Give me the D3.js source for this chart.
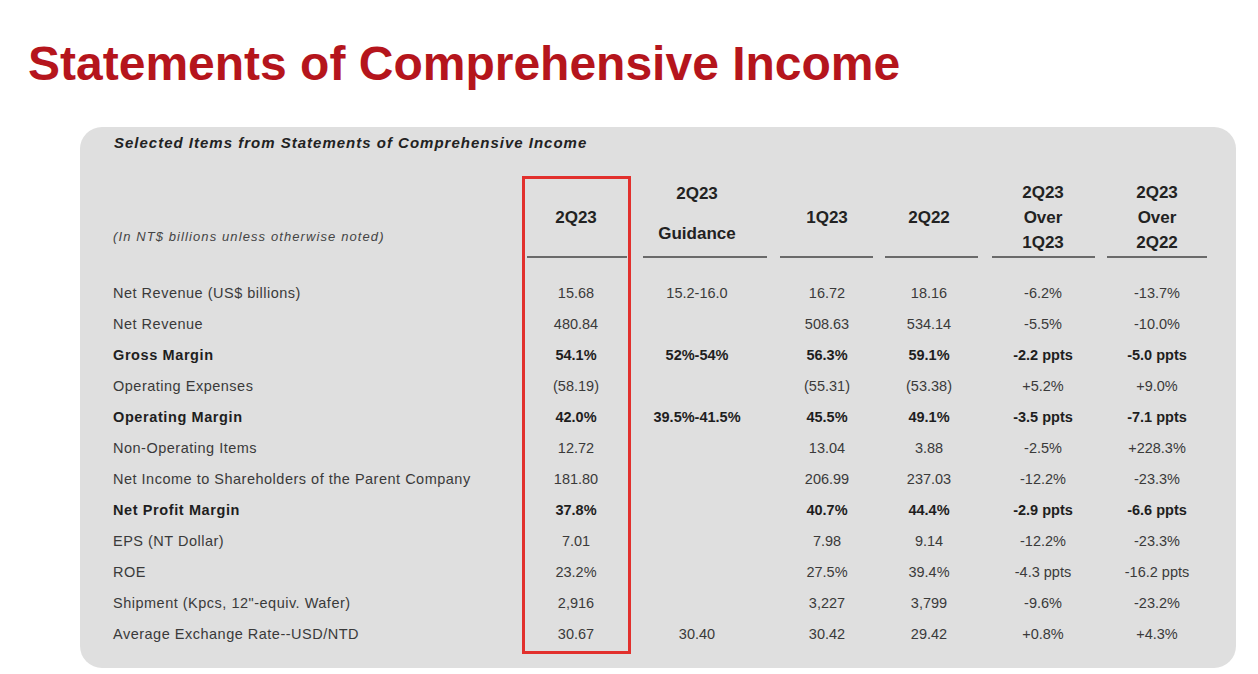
<!DOCTYPE html>
<html>
<head>
<meta charset="utf-8">
<title>Statements of Comprehensive Income</title>
<script src="https://d3js.org/d3.v7.min.js"></script>
<style>
  body { margin: 0; background: #fff; }
  svg { display: block; font-family: "Liberation Sans", Arial, sans-serif; }
</style>
</head>
<body>
<div id="chart"></div>
<script>
// Table content
const rowLabels = [
  "Net Revenue (US$ billions)",
  "Net Revenue",
  "Gross Margin",
  "Operating Expenses",
  "Operating Margin",
  "Non-Operating Items",
  "Net Income to Shareholders of the Parent Company",
  "Net Profit Margin",
  "EPS (NT Dollar)",
  "ROE",
  "Shipment (Kpcs, 12\"-equiv. Wafer)",
  "Average Exchange Rate--USD/NTD"
];
const boldRows = ["Gross Margin", "Operating Margin", "Net Profit Margin"];

const colKeys = ["q2q23", "guidance", "q1q23", "q2q22", "over1q23", "over2q22"];
const colHeaders = [
  ["2Q23"],
  ["2Q23", "Guidance"],
  ["1Q23"],
  ["2Q22"],
  ["2Q23", "Over", "1Q23"],
  ["2Q23", "Over", "2Q22"]
];

const q2q23 = ["15.68", "480.84", "54.1%", "(58.19)", "42.0%", "12.72", "181.80", "37.8%", "7.01", "23.2%", "2,916", "30.67"];
const guidance = ["15.2-16.0", "", "52%-54%", "", "39.5%-41.5%", "", "", "", "", "", "", "30.40"];
const q1q23 = ["16.72", "508.63", "56.3%", "(55.31)", "45.5%", "13.04", "206.99", "40.7%", "7.98", "27.5%", "3,227", "30.42"];
const q2q22 = ["18.16", "534.14", "59.1%", "(53.38)", "49.1%", "3.88", "237.03", "44.4%", "9.14", "39.4%", "3,799", "29.42"];
const over1q23 = ["-6.2%", "-5.5%", "-2.2 ppts", "+5.2%", "-3.5 ppts", "-2.5%", "-12.2%", "-2.9 ppts", "-12.2%", "-4.3 ppts", "-9.6%", "+0.8%"];
const over2q22 = ["-13.7%", "-10.0%", "-5.0 ppts", "+9.0%", "-7.1 ppts", "+228.3%", "-23.3%", "-6.6 ppts", "-23.3%", "-16.2 ppts", "-23.2%", "+4.3%"];
const columns = [q2q23, guidance, q1q23, q2q22, over1q23, over2q22];

const width = 1258, height = 674;

const svg = d3.select("#chart").append("svg")
  .attr("width", width)
  .attr("height", height);

// Title
svg.append("text")
  .attr("x", 28)
  .attr("y", 80)
  .attr("fill", "#b5151c")
  .style("font-size", "48px")
  .style("font-weight", "bold")
  .text("Statements of Comprehensive Income");

// Grey panel
svg.append("rect")
  .attr("x", 80)
  .attr("y", 127)
  .attr("width", 1156)
  .attr("height", 541)
  .attr("rx", 22)
  .attr("fill", "#dfdfdf");

svg.append("text")
  .attr("x", 114)
  .attr("y", 148)
  .attr("fill", "#222")
  .style("font-size", "15px")
  .style("letter-spacing", "1px")
  .style("font-weight", "bold")
  .style("font-style", "italic")
  .text("Selected Items from Statements of Comprehensive Income");

svg.append("text")
  .attr("x", 113)
  .attr("y", 241)
  .attr("fill", "#444")
  .style("font-size", "13px")
  .style("letter-spacing", "1.1px")
  .style("font-style", "italic")
  .text("(In NT$ billions unless otherwise noted)");

// Column centres and underline extents
const colCenters = [576, 697, 827, 929, 1043, 1157];
const colLines = [[527, 627], [643, 767], [780, 873], [885, 978], [992, 1095], [1107, 1207]];

const x = d3.scaleOrdinal().domain(colKeys).range(colCenters);
const y = d3.scalePoint().domain(rowLabels).range([293, 634]);

// Headers
const head = svg.append("g").attr("class", "headers");
colKeys.forEach((k, i) => {
  const lines = colHeaders[i];
  const step = lines.length === 3 ? 25 : 40;
  const y0 = 217 - (lines.length - 1) * step / 2 - (lines.length === 2 ? 4 : 0);
  head.append("text")
    .attr("x", x(k))
    .attr("text-anchor", "middle")
    .attr("fill", "#222")
    .style("font-size", "17px")
    .style("font-weight", "bold")
    .selectAll("tspan")
    .data(lines)
    .join("tspan")
    .attr("x", x(k))
    .attr("y", (d, j) => y0 + j * step + 6)
    .text(d => d);
  head.append("line")
    .attr("x1", colLines[i][0])
    .attr("x2", colLines[i][1])
    .attr("y1", 257)
    .attr("y2", 257)
    .attr("stroke", "#6a6a6a")
    .attr("stroke-width", 2.2);
});

// Row labels
svg.append("g").selectAll("text")
  .data(rowLabels)
  .join("text")
  .attr("x", 113)
  .attr("y", d => y(d) + 5)
  .attr("fill", d => boldRows.includes(d) ? "#1e1e1e" : "#3a3a3a")
  .style("font-size", "14.5px")
  .style("letter-spacing", d => boldRows.includes(d) ? "0.6px" : "0.5px")
  .style("font-weight", d => boldRows.includes(d) ? "bold" : "normal")
  .text(d => d);

// Values
colKeys.forEach((k, i) => {
  svg.append("g").selectAll("text")
    .data(columns[i].map((v, r) => ({ v, label: rowLabels[r] })))
    .join("text")
    .attr("x", x(k))
    .attr("y", d => y(d.label) + 5)
    .attr("text-anchor", "middle")
    .attr("fill", d => boldRows.includes(d.label) ? "#1e1e1e" : "#3a3a3a")
    .style("font-size", "14.5px")
    .style("font-weight", d => boldRows.includes(d.label) ? "bold" : "normal")
    .text(d => d.v);
});

// Red highlight box round the 2Q23 column
svg.append("rect")
  .attr("x", 523.5)
  .attr("y", 177.5)
  .attr("width", 106)
  .attr("height", 475)
  .attr("fill", "none")
  .attr("stroke", "#e2302d")
  .attr("stroke-width", 3);
</script>
</body>
</html>
